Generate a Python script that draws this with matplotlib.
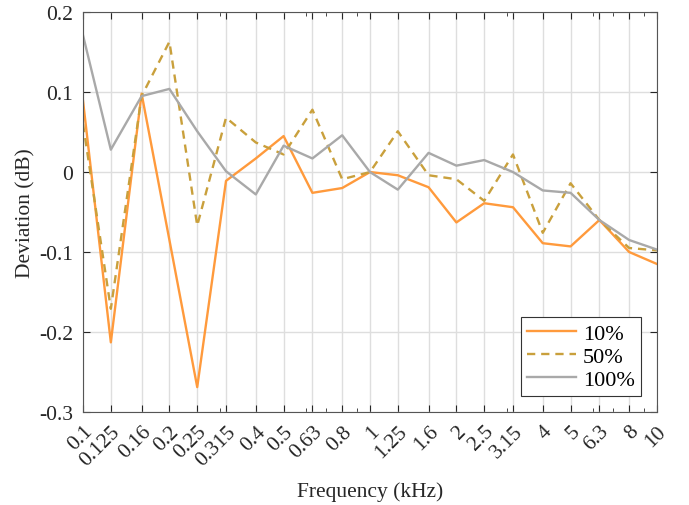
import numpy as np
import matplotlib.pyplot as plt
from matplotlib.ticker import FixedLocator, NullFormatter, LogLocator

# Third-octave band centre frequencies (kHz)
freq = [0.1, 0.125, 0.16, 0.2, 0.25, 0.315, 0.4, 0.5, 0.63, 0.8, 1,
        1.25, 1.6, 2, 2.5, 3.15, 4, 5, 6.3, 8, 10]
freq_labels = ['0.1', '0.125', '0.16', '0.2', '0.25', '0.315', '0.4', '0.5',
               '0.63', '0.8', '1', '1.25', '1.6', '2', '2.5', '3.15', '4',
               '5', '6.3', '8', '10']

# Deviation (dB) for each level
dev_10 = [0.089, -0.213, 0.098, -0.085, -0.269, -0.011, 0.017, 0.045, -0.026,
          -0.020, 0.000, -0.004, -0.019, -0.063, -0.039, -0.044, -0.089,
          -0.093, -0.060, -0.100, -0.115]
dev_50 = [0.060, -0.171, 0.095, 0.163, -0.067, 0.068, 0.037, 0.022, 0.078,
          -0.009, 0.000, 0.051, -0.004, -0.009, -0.036, 0.022, -0.076,
          -0.014, -0.060, -0.095, -0.098]
dev_100 = [0.171, 0.028, 0.095, 0.104, 0.051, 0.001, -0.028, 0.033, 0.017,
           0.046, 0.000, -0.022, 0.024, 0.008, 0.015, 0.000, -0.023, -0.026,
           -0.060, -0.085, -0.097]

plt.rcParams['font.family'] = ['Liberation Serif', 'DejaVu Serif']
plt.rcParams['font.size'] = 15.5

fig = plt.figure(figsize=(6.89, 5.06), dpi=100)
ax = fig.add_axes([0.1205, 0.184, 0.833, 0.790])

ax.plot(freq, dev_10, color='#FF9A3C', lw=1.7, label='10%')
ax.plot(freq, dev_50, color='#C9A03C', lw=1.7, ls=(0, (3.5, 2.5)), label='50%')
ax.plot(freq, dev_100, color='#A9A9A9', lw=1.7, label='100%')

ax.set_xscale('log')
ax.set_xlim(0.1, 10)
ax.set_ylim(-0.3, 0.2)
ax.xaxis.set_major_locator(FixedLocator(freq))
ax.set_xticks(freq)
ax.set_xticklabels(freq_labels, rotation=45, ha='right', rotation_mode='anchor')
ax.xaxis.set_minor_locator(LogLocator(base=10, subs=np.arange(2, 10)))
ax.xaxis.set_minor_formatter(NullFormatter())
ax.set_yticks([-0.3, -0.2, -0.1, 0, 0.1, 0.2])
ax.set_yticklabels(['-0.3', '-0.2', '-0.1', '0', '0.1', '0.2'])

ax.grid(True, which='major', color='#DEDEDE', lw=1)
ax.set_axisbelow(True)
ax.tick_params(which='both', direction='in', top=True, right=True,
               colors='#262626', labelcolor='#262626')
ax.tick_params(which='major', length=5, labelsize=15.5)
ax.tick_params(which='minor', length=3)
ax.tick_params(axis='x', pad=7)
ax.tick_params(axis='y', pad=7)
for s in ax.spines.values():
    s.set_color('#555555')

ax.set_xlabel('Frequency (kHz)', fontsize=15.5, color='#262626', labelpad=9)
ax.set_ylabel('Deviation (dB)', fontsize=15.5, color='#262626', labelpad=3)

leg = ax.legend(loc='lower right', fontsize=16, fancybox=False,
                framealpha=1, edgecolor='#333333', handlelength=2.2,
                handletextpad=0.3, borderaxespad=0.7, labelspacing=0.1,
                borderpad=0.3)
leg.get_frame().set_linewidth(0.8)

fig.savefig('out.png', dpi=100)
